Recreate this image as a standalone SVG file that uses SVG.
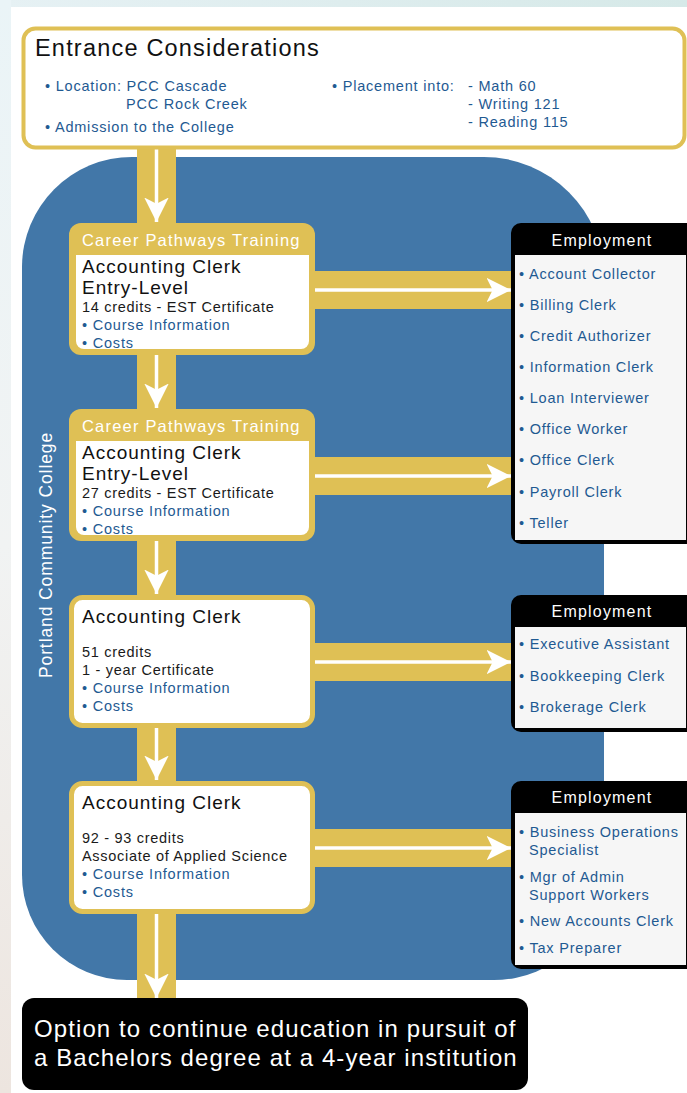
<svg xmlns="http://www.w3.org/2000/svg" width="687" height="1093" viewBox="0 0 687 1093">
<defs>
<linearGradient id="topg" x1="0" y1="0" x2="1" y2="0"><stop offset="0" stop-color="#e6f1f4"/><stop offset="1" stop-color="#d6e9e8"/></linearGradient>
<linearGradient id="leftg" x1="0" y1="0" x2="0" y2="1"><stop offset="0" stop-color="#eaf4f7"/><stop offset="0.5" stop-color="#f1f3f3"/><stop offset="1" stop-color="#ede5df"/></linearGradient>
<marker id="ah" viewBox="0 0 10 10" refX="10" refY="5" markerWidth="7" markerHeight="7" markerUnits="strokeWidth" orient="auto"><path d="M0,0 L10,5 L0,10 L2.5,5 Z" fill="#ffffff"/></marker>
</defs>
<style>
text{font-family:"Liberation Sans",Arial,sans-serif;}
.h1{font-size:23.5px;fill:#111;letter-spacing:1.2px;}
.lk{font-size:14.5px;fill:#1f5a92;letter-spacing:0.8px;}
.hd{font-size:16.5px;fill:#ffffff;letter-spacing:1.2px;}
.tt{font-size:19px;fill:#111;letter-spacing:1px;}
.bd{font-size:14.5px;fill:#1a1a1a;letter-spacing:0.7px;}
.em{font-size:16px;fill:#ffffff;letter-spacing:1.2px;text-anchor:middle;}
.it{font-size:14.5px;fill:#1f5a92;letter-spacing:0.8px;}
.fin{font-size:24px;fill:#ffffff;letter-spacing:1.1px;}
.vt{font-size:17.5px;fill:#ffffff;letter-spacing:0.9px;text-anchor:middle;}
.gold{fill:#dfc055;}
.wl{stroke:#ffffff;stroke-width:3.5;fill:none;}
</style>
<rect x="0" y="0" width="687" height="1093" fill="#ffffff"/>
<rect x="0" y="0" width="687" height="7" fill="url(#topg)"/>
<rect x="0" y="0" width="11" height="1093" fill="url(#leftg)"/>

<path id="college-area" d="M132,157 H484 A120,120 0 0 1 604,277 V870 A110,110 0 0 1 494,980 H127 A105,105 0 0 1 22,875 V267 A110,110 0 0 1 132,157 Z" fill="#4277a8"/>
<text class="vt" transform="translate(52,555) rotate(-90)">Portland Community College</text>

<g id="connectors">
<rect class="gold" x="137" y="146" width="39" height="854"/>
<rect class="gold" x="310" y="271" width="203" height="38"/>
<rect class="gold" x="310" y="457" width="203" height="38"/>
<rect class="gold" x="310" y="643" width="203" height="38"/>
<rect class="gold" x="310" y="829" width="203" height="38"/>
<line class="wl" x1="156.5" y1="148" x2="156.5" y2="222" marker-end="url(#ah)"/>
<line class="wl" x1="156.5" y1="354" x2="156.5" y2="408" marker-end="url(#ah)"/>
<line class="wl" x1="156.5" y1="540" x2="156.5" y2="594" marker-end="url(#ah)"/>
<line class="wl" x1="156.5" y1="727" x2="156.5" y2="780" marker-end="url(#ah)"/>
<line class="wl" x1="156.5" y1="913" x2="156.5" y2="998" marker-end="url(#ah)"/>
<line class="wl" x1="312" y1="290" x2="511" y2="290" marker-end="url(#ah)"/>
<line class="wl" x1="312" y1="476" x2="511" y2="476" marker-end="url(#ah)"/>
<line class="wl" x1="312" y1="662" x2="511" y2="662" marker-end="url(#ah)"/>
<line class="wl" x1="312" y1="848" x2="511" y2="848" marker-end="url(#ah)"/>
</g>

<g id="entrance">
<rect x="23.5" y="28.5" width="661" height="119" rx="12" fill="#ffffff" stroke="#dfc055" stroke-width="4"/>
<text class="h1" x="35" y="56">Entrance Considerations</text>
<text class="lk" x="45" y="91">• Location: PCC Cascade</text>
<text class="lk" x="126" y="109">PCC Rock Creek</text>
<text class="lk" x="45" y="132">• Admission to the College</text>
<text class="lk" x="332" y="91">• Placement into:</text>
<text class="lk" x="468" y="91">- Math 60</text>
<text class="lk" x="468" y="109">- Writing 121</text>
<text class="lk" x="468" y="127">- Reading 115</text>
</g>

<g id="node1">
<rect class="gold" x="69" y="223" width="246" height="132" rx="12"/>
<path d="M76,255 H309 V341 A8,8 0 0 1 301,349 H84 A8,8 0 0 1 76,341 Z" fill="#ffffff"/>
<text class="hd" x="82" y="246">Career Pathways Training</text>
<text class="tt" x="82" y="273">Accounting Clerk</text>
<text class="tt" x="82" y="294">Entry-Level</text>
<text class="bd" x="82" y="312">14 credits - EST Certificate</text>
<text class="lk" x="82" y="330">• Course Information</text>
<text class="lk" x="82" y="348">• Costs</text>
</g>

<g id="node2">
<rect class="gold" x="69" y="409" width="246" height="132" rx="12"/>
<path d="M76,441 H309 V527 A8,8 0 0 1 301,535 H84 A8,8 0 0 1 76,527 Z" fill="#ffffff"/>
<text class="hd" x="82" y="432">Career Pathways Training</text>
<text class="tt" x="82" y="459">Accounting Clerk</text>
<text class="tt" x="82" y="480">Entry-Level</text>
<text class="bd" x="82" y="498">27 credits - EST Certificate</text>
<text class="lk" x="82" y="516">• Course Information</text>
<text class="lk" x="82" y="534">• Costs</text>
</g>

<g id="node3">
<rect x="71.5" y="597.5" width="241" height="128" rx="11" fill="#ffffff" stroke="#dfc055" stroke-width="5"/>
<text class="tt" x="82" y="623">Accounting Clerk</text>
<text class="bd" x="82" y="657">51 credits</text>
<text class="bd" x="82" y="675">1 - year Certificate</text>
<text class="lk" x="82" y="693">• Course Information</text>
<text class="lk" x="82" y="711">• Costs</text>
</g>

<g id="node4">
<rect x="71.5" y="783.5" width="241" height="128" rx="11" fill="#ffffff" stroke="#dfc055" stroke-width="5"/>
<text class="tt" x="82" y="809">Accounting Clerk</text>
<text class="bd" x="82" y="843">92 - 93 credits</text>
<text class="bd" x="82" y="861">Associate of Applied Science</text>
<text class="lk" x="82" y="879">• Course Information</text>
<text class="lk" x="82" y="897">• Costs</text>
</g>

<g id="employment1">
<rect x="511" y="223" width="186" height="321" rx="10" fill="#000000"/>
<rect x="515" y="255" width="171" height="285" fill="#f6f6f6"/>
<text class="em" x="602" y="246">Employment</text>
<text class="it" x="519" y="279">• Account Collector</text>
<text class="it" x="519" y="310">• Billing Clerk</text>
<text class="it" x="519" y="341">• Credit Authorizer</text>
<text class="it" x="519" y="372">• Information Clerk</text>
<text class="it" x="519" y="403">• Loan Interviewer</text>
<text class="it" x="519" y="434">• Office Worker</text>
<text class="it" x="519" y="465">• Office Clerk</text>
<text class="it" x="519" y="497">• Payroll Clerk</text>
<text class="it" x="519" y="528">• Teller</text>
</g>

<g id="employment2">
<rect x="511" y="595" width="186" height="137" rx="10" fill="#000000"/>
<rect x="515" y="627" width="171" height="101" fill="#f6f6f6"/>
<text class="em" x="602" y="617">Employment</text>
<text class="it" x="519" y="649">• Executive Assistant</text>
<text class="it" x="519" y="681">• Bookkeeping Clerk</text>
<text class="it" x="519" y="712">• Brokerage Clerk</text>
</g>

<g id="employment3">
<rect x="511" y="781" width="186" height="188" rx="10" fill="#000000"/>
<rect x="515" y="813" width="171" height="152" fill="#f6f6f6"/>
<text class="em" x="602" y="803">Employment</text>
<text class="it" x="519" y="837">• Business Operations</text>
<text class="it" x="529" y="855">Specialist</text>
<text class="it" x="519" y="882">• Mgr of Admin</text>
<text class="it" x="529" y="900">Support Workers</text>
<text class="it" x="519" y="926">• New Accounts Clerk</text>
<text class="it" x="519" y="953">• Tax Preparer</text>
</g>

<g id="bachelors">
<rect x="22" y="998" width="506" height="92" rx="12" fill="#000000"/>
<text class="fin" x="34" y="1037">Option to continue education in pursuit of</text>
<text class="fin" x="34" y="1066">a Bachelors degree at a 4-year institution</text>
</g>
</svg>
